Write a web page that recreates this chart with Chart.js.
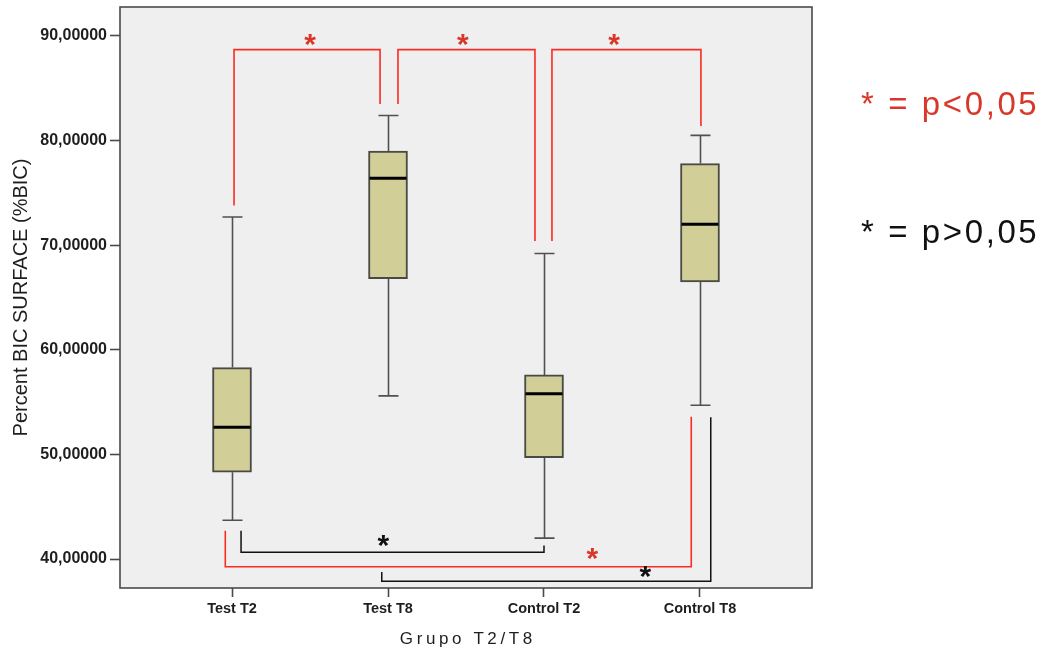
<!DOCTYPE html>
<html><head><meta charset="utf-8">
<script src="https://cdn.jsdelivr.net/npm/chart.js@4.4.1/dist/chart.umd.min.js"></script>
<style>html,body{margin:0;padding:0;background:#fff}</style>
</head><body>
<canvas id="c" width="1052" height="650"></canvas>
<script>
// ---- data ----
const categories  = ['Test T2', 'Test T8', 'Control T2', 'Control T8'];
const whiskerLow  = [43.7, 55.6, 42.0, 54.7];
const q1          = [48.3, 66.8, 49.7, 66.5];
const median      = [52.6, 76.4, 55.8, 72.0];
const q3          = [58.3, 79.0, 57.6, 77.8];
const whiskerHigh = [72.7, 82.4, 69.2, 80.5];
const yTicks = [40, 50, 60, 70, 80, 90];
const xTicks = [0, 1, 2, 3];

// significance brackets: [group position, value] vertices
const bracketT2vsT8      = [[0.013, 73.8], [0.013, 88.7], [0.949, 88.7], [0.949, 83.5]];
const bracketT8vsC2      = [[1.064, 83.5], [1.064, 88.7], [1.942, 88.7], [1.942, 70.4]];
const bracketC2vsC8      = [[2.051, 70.4], [2.051, 88.7], [3.006, 88.7], [3.006, 81.4]];
const bracketT2vsC2      = [[0.058, 42.7], [0.058, 40.64], [2.0, 40.64], [2.0, 41.3]];
const bracketT2vsC8      = [[-0.043, 42.7], [-0.043, 39.26], [2.944, 39.26], [2.944, 53.6]];
const bracketT8vsC8      = [[0.96, 38.76], [0.96, 37.87], [3.069, 37.87], [3.069, 53.55]];
const significantBrackets    = [bracketT2vsT8, bracketT8vsC2, bracketC2vsC8, bracketT2vsC8];
const nonSignificantBrackets = [bracketT2vsC2, bracketT8vsC8];
const starsSignificant    = [[0.5, 89.6], [1.48, 89.6], [2.45, 89.6], [2.31, 40.4]];
const starsNonSignificant = [[0.97, 41.7], [2.65, 38.75]];
const legendSignificant    = '* = p<0,05';
const legendNonSignificant = '* = p>0,05';
const yTitle = 'Percent BIC SURFACE (%BIC)';
const xTitle = 'Grupo T2/T8';

// ---- styles ----
const RED_LINE = '#fb2b22', RED_TEXT = '#d8382b', DARK = '#1e1e1e';
const BOX_FILL = '#d2ce98', BOX_EDGE = '#4a4a44', WHISK = '#505050', FRAME = '#4a4a4a';
const FONT = '"Liberation Sans", Arial, sans-serif';

const toPts = arr => arr.map(p => ({x: p[0], y: p[1]}));
const bracketDatasets = [
  ...significantBrackets.map(b => ({type:'line', data: toPts(b), borderColor: RED_LINE, borderWidth: 1.6, pointRadius: 0, fill: false, tension: 0})),
  ...nonSignificantBrackets.map(b => ({type:'line', data: toPts(b), borderColor: '#111', borderWidth: 1.5, pointRadius: 0, fill: false, tension: 0}))
];

const boxPlugin = {
  id: 'boxParts',
  beforeDraw(chart) {
    const {ctx, chartArea: a} = chart;
    ctx.save(); ctx.fillStyle = '#efefef'; ctx.fillRect(a.left, a.top, a.width, a.height); ctx.restore();
  },
  beforeDatasetsDraw(chart) {
    const {ctx, scales: {x, y}} = chart;
    ctx.save(); ctx.strokeStyle = WHISK; ctx.lineWidth = 1.6;
    categories.forEach((c, i) => {
      const px = Math.round(x.getPixelForValue(i)) + 0.5;
      ctx.beginPath();
      ctx.moveTo(px, y.getPixelForValue(q3[i])); ctx.lineTo(px, y.getPixelForValue(whiskerHigh[i]));
      ctx.moveTo(px, y.getPixelForValue(q1[i])); ctx.lineTo(px, y.getPixelForValue(whiskerLow[i]));
      ctx.moveTo(px - 10, y.getPixelForValue(whiskerHigh[i])); ctx.lineTo(px + 10, y.getPixelForValue(whiskerHigh[i]));
      ctx.moveTo(px - 10, y.getPixelForValue(whiskerLow[i])); ctx.lineTo(px + 10, y.getPixelForValue(whiskerLow[i]));
      ctx.stroke();
    });
    ctx.restore();
  },
  afterDatasetDraw(chart, args) {
    if (args.index !== 0) return;
    const {ctx, scales: {x, y}} = chart;
    ctx.save(); ctx.strokeStyle = '#000'; ctx.lineWidth = 3;
    categories.forEach((c, i) => {
      const px = x.getPixelForValue(i), py = y.getPixelForValue(median[i]);
      ctx.beginPath(); ctx.moveTo(px - 18.5, py); ctx.lineTo(px + 18.5, py); ctx.stroke();
    });
    ctx.restore();
  },
  afterDraw(chart) {
    const {ctx, chartArea: a, scales: {x, y}} = chart;
    ctx.save();
    // frame
    ctx.strokeStyle = FRAME; ctx.lineWidth = 1.6;
    ctx.strokeRect(a.left, a.top, a.width, a.height);
    // stars
    const sz = 30;
    ctx.font = 'bold ' + sz + 'px ' + FONT; ctx.textAlign = 'center'; ctx.textBaseline = 'alphabetic';
    ctx.fillStyle = RED_TEXT;
    starsSignificant.forEach(s => ctx.fillText('*', x.getPixelForValue(s[0]), y.getPixelForValue(s[1]) + 0.45 * sz));
    ctx.fillStyle = '#111';
    starsNonSignificant.forEach(s => ctx.fillText('*', x.getPixelForValue(s[0]), y.getPixelForValue(s[1]) + 0.45 * sz));
    // x title with letter spacing
    ctx.font = '17px ' + FONT; ctx.fillStyle = DARK; ctx.textAlign = 'left';
    const ls = 3.6; ctx.letterSpacing = ls + 'px';
    const w = ctx.measureText(xTitle).width - ls;
    ctx.fillText(xTitle, (a.left + a.right) / 2 - w / 2, 644);
    // legend texts
    ctx.letterSpacing = '2.6px';
    ctx.font = '33px ' + FONT;
    ctx.fillStyle = RED_TEXT; ctx.fillText(legendSignificant, 861, 115);
    ctx.fillStyle = '#111'; ctx.fillText(legendNonSignificant, 861, 243);
    ctx.restore();
  }
};

new Chart(document.getElementById('c'), {
  type: 'bar',
  data: {
    datasets: [
      {type: 'bar', data: categories.map((c, i) => ({x: i, y: [q1[i], q3[i]]})),
       backgroundColor: BOX_FILL, borderColor: BOX_EDGE, borderWidth: 2, borderSkipped: false, barThickness: 39},
      ...bracketDatasets
    ]
  },
  options: {
    responsive: false, animation: false,
    layout: {padding: {top: 7, right: 240, left: 0, bottom: 0}},
    plugins: {legend: {display: false}, tooltip: {enabled: false}},
    scales: {
      x: {
        type: 'linear', min: -0.718, max: 3.718, offset: false,
        afterBuildTicks: s => { s.ticks = xTicks.map(v => ({value: v})); },
        afterFit: s => { s.height = 62; s.paddingLeft = 0; s.paddingRight = 0; },
        grid: {offset: false, drawOnChartArea: false, drawTicks: true, tickLength: 9, tickColor: FRAME, tickWidth: 1.6},
        border: {display: false},
        ticks: {callback: v => categories[v], color: DARK, padding: 3, maxRotation: 0, autoSkip: false,
                font: {family: FONT, size: 14.5, weight: 'bold'}}
      },
      y: {
        type: 'linear', min: 37.23, max: 92.77,
        afterBuildTicks: s => { s.ticks = yTicks.map(v => ({value: v})); },
        afterFit: s => { s.width = 120; s.paddingTop = 0; s.paddingBottom = 0; },
        grid: {drawOnChartArea: false, drawTicks: true, tickLength: 10, tickColor: FRAME, tickWidth: 1.6},
        border: {display: false},
        ticks: {callback: v => v.toFixed(5).replace('.', ','), color: DARK, padding: 3,
                font: {family: FONT, size: 16, weight: 'bold'}},
        title: {display: true, text: yTitle, color: DARK, font: {family: FONT, size: 20}, padding: {top: 9, bottom: 0}}
      }
    }
  },
  plugins: [boxPlugin]
});
</script>
</body></html>
